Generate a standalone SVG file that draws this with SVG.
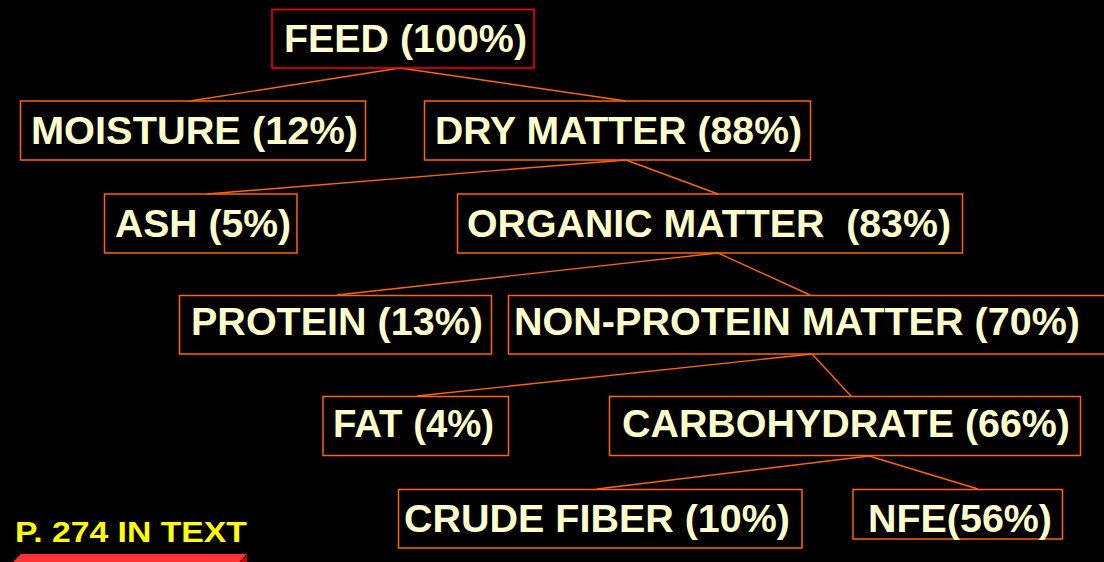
<svg xmlns="http://www.w3.org/2000/svg" width="1104" height="562" viewBox="0 0 1104 562">
<style>
.box{fill:none;stroke:#FF6600;stroke-width:1.5}
.feed{fill:none;stroke:#FF0000;stroke-width:1.5}
.t{font-family:"Liberation Sans",Arial,sans-serif;font-weight:bold;font-size:38px;fill:#FFFFCC}
.c line{stroke:#FF6600;stroke-width:1.4}
</style>
<rect width="1104" height="562" fill="#000000"/>
<g id="connectors" class="c">
<line x1="400" y1="68" x2="190" y2="101"/>
<line x1="400" y1="68" x2="626" y2="101"/>
<line x1="626" y1="160" x2="207" y2="194"/>
<line x1="626" y1="160" x2="718" y2="194"/>
<line x1="718" y1="253" x2="337" y2="295"/>
<line x1="718" y1="253" x2="810" y2="295"/>
<line x1="812" y1="354" x2="417" y2="396"/>
<line x1="812" y1="354" x2="851" y2="396"/>
<line x1="869" y1="456" x2="597" y2="489"/>
<line x1="869" y1="456" x2="978" y2="489"/>
</g>
<g id="feed"><rect class="feed" x="272" y="9.5" width="262" height="58.5"/><text class="t" x="284" y="52" textLength="243" lengthAdjust="spacingAndGlyphs">FEED (100%)</text></g>
<g id="moisture"><rect class="box" x="20.5" y="101" width="345" height="59"/><text class="t" x="31" y="144" textLength="327" lengthAdjust="spacingAndGlyphs">MOISTURE (12%)</text></g>
<g id="drymatter"><rect class="box" x="424.5" y="101" width="386" height="59"/><text class="t" x="435" y="144" textLength="367" lengthAdjust="spacingAndGlyphs">DRY MATTER (88%)</text></g>
<g id="ash"><rect class="box" x="104.5" y="194" width="192.5" height="59"/><text class="t" x="115" y="237" textLength="176" lengthAdjust="spacingAndGlyphs">ASH (5%)</text></g>
<g id="organic"><rect class="box" x="457.5" y="194" width="505" height="59"/><text class="t" x="467" y="237" textLength="484" lengthAdjust="spacingAndGlyphs" xml:space="preserve">ORGANIC MATTER  (83%)</text></g>
<g id="protein"><rect class="box" x="179.5" y="295.5" width="312" height="58.5"/><text class="t" x="191" y="335" textLength="292" lengthAdjust="spacingAndGlyphs">PROTEIN (13%)</text></g>
<g id="nonprotein"><rect class="box" x="508.5" y="295.5" width="600" height="58.5"/><text class="t" x="514" y="335" textLength="566" lengthAdjust="spacingAndGlyphs">NON-PROTEIN MATTER (70%)</text></g>
<g id="fat"><rect class="box" x="323" y="396.5" width="185.5" height="59"/><text class="t" x="333" y="437" textLength="161" lengthAdjust="spacingAndGlyphs">FAT (4%)</text></g>
<g id="carbohydrate"><rect class="box" x="609.5" y="396.5" width="471" height="59"/><text class="t" x="622" y="437" textLength="448" lengthAdjust="spacingAndGlyphs">CARBOHYDRATE (66%)</text></g>
<g id="crudefiber"><rect class="box" x="398.5" y="489.5" width="403.5" height="58.5"/><text class="t" x="404" y="532" textLength="386" lengthAdjust="spacingAndGlyphs">CRUDE FIBER (10%)</text></g>
<g id="nfe"><rect class="box" x="853" y="489.5" width="209.5" height="49.5"/><text class="t" x="868" y="532" textLength="184" lengthAdjust="spacingAndGlyphs">NFE(56%)</text></g>
<g id="pagelabel">
<text x="15" y="542" font-family="Liberation Sans,Arial,sans-serif" font-weight="bold" font-size="30" fill="#FFFF00" textLength="232" lengthAdjust="spacingAndGlyphs">P. 274 IN TEXT</text>
<polygon points="13,562 21,554 247,554 240,562" fill="#FF3333"/>
<polygon points="240,562 247,554.5 247,562" fill="#CC0000"/>
<line x1="240" y1="562" x2="247" y2="554" stroke="#330000" stroke-width="1"/>
</g>
</svg>
